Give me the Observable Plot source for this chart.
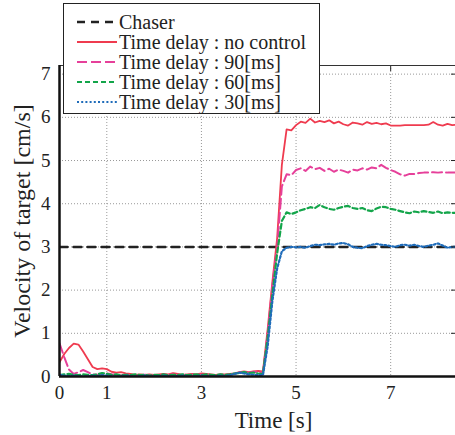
<!DOCTYPE html>
<html><head><meta charset="utf-8">
<script src="https://cdn.jsdelivr.net/npm/d3@7"></script>
<script src="https://cdn.jsdelivr.net/npm/@observablehq/plot@0.6"></script>
<style>body{margin:0;background:#fff} #wrap{position:relative;width:455px;height:435px;overflow:hidden}</style>
</head><body><div id="wrap"></div>
<script>
const time = [0.0,0.1,0.2,0.3,0.4,0.5,0.6,0.7,0.8,0.9,1.0,1.1,1.2,1.3,1.4,1.5,1.6,1.7,1.8,1.9,2.0,2.1,2.2,2.3,2.4,2.5,2.6,2.7,2.8,2.9,3.0,3.1,3.2,3.3,3.4,3.5,3.6,3.7,3.8,3.9,4.0,4.1,4.2,4.3,4.4,4.5,4.6,4.7,4.8,4.9,5.0,5.1,5.2,5.3,5.4,5.5,5.6,5.7,5.8,5.9,6.0,6.1,6.2,6.3,6.4,6.5,6.6,6.7,6.8,6.9,7.0,7.1,7.2,7.3,7.4,7.5,7.6,7.7,7.8,7.9,8.0,8.1,8.2,8.3,8.4];
const noControl = [0.33,0.52,0.66,0.76,0.74,0.58,0.40,0.22,0.17,0.19,0.17,0.11,0.09,0.10,0.07,0.06,0.04,0.05,0.04,0.05,0.04,0.05,0.06,0.05,0.08,0.06,0.04,0.05,0.06,0.05,0.07,0.06,0.05,0.04,0.05,0.05,0.06,0.07,0.10,0.12,0.10,0.12,0.13,0.12,1.1,2.2,3.2,4.9,5.72,5.70,5.82,5.90,5.87,5.97,5.88,5.92,5.89,5.93,5.86,5.90,5.84,5.81,5.88,5.86,5.83,5.89,5.85,5.87,5.84,5.86,5.81,5.81,5.81,5.82,5.82,5.82,5.82,5.82,5.83,5.89,5.83,5.81,5.85,5.82,5.83];
const delay90 = [0.77,0.45,0.16,0.06,0.10,0.15,0.10,0.05,0.04,0.05,0.07,0.05,0.04,0.03,0.04,0.03,0.02,0.03,0.04,0.03,0.02,0.03,0.04,0.03,0.05,0.04,0.03,0.03,0.04,0.03,0.05,0.04,0.03,0.03,0.04,0.03,0.05,0.06,0.09,0.11,0.09,0.11,0.10,0.08,1.0,2.1,3.0,4.4,4.68,4.66,4.78,4.82,4.76,4.86,4.80,4.83,4.76,4.81,4.74,4.79,4.76,4.72,4.79,4.77,4.82,4.79,4.84,4.82,4.90,4.83,4.78,4.74,4.68,4.65,4.69,4.69,4.71,4.72,4.72,4.73,4.72,4.73,4.72,4.72,4.72];
const delay60 = [0.03,0.05,0.06,0.04,0.03,0.05,0.04,0.03,0.05,0.08,0.06,0.04,0.05,0.03,0.04,0.03,0.05,0.03,0.04,0.02,0.04,0.03,0.05,0.03,0.04,0.03,0.05,0.03,0.04,0.05,0.03,0.05,0.04,0.03,0.05,0.04,0.05,0.07,0.08,0.10,0.08,0.09,0.07,0.06,0.9,1.9,2.85,3.6,3.80,3.76,3.80,3.85,3.88,3.92,3.90,3.97,3.92,3.88,3.86,3.90,3.93,3.95,3.90,3.88,3.90,3.85,3.83,3.89,3.93,3.92,3.88,3.86,3.83,3.80,3.78,3.82,3.80,3.83,3.81,3.79,3.82,3.78,3.80,3.79,3.79];
const delay30 = [0.04,0.02,0.01,0.02,0.01,0.00,0.01,0.02,0.01,0.03,0.02,0.01,0.00,0.01,0.02,0.01,0.00,0.01,0.02,0.01,0.00,0.01,0.02,0.01,0.00,0.01,0.02,0.01,0.00,0.01,0.02,0.01,0.00,0.01,0.02,0.01,0.03,0.06,0.09,0.07,0.05,0.04,0.03,0.03,0.7,1.75,2.5,2.9,2.98,3.00,2.99,3.00,2.98,3.02,3.05,3.04,3.06,3.07,3.05,3.08,3.09,3.06,3.00,2.98,2.97,3.02,3.05,3.07,3.05,3.04,3.02,3.00,3.04,3.05,3.03,3.05,3.02,3.00,3.03,3.05,3.08,3.03,2.98,3.00,3.00];
const chaserTime = [0, 8.4];
const chaserValue = [3, 3];
const xTicks = [0, 1, 3, 5, 7];
const yTicks = [0, 1, 2, 3, 4, 5, 6, 7];
const legendLabels = ["Chaser", "Time delay : no control", "Time delay : 90[ms]", "Time delay : 60[ms]", "Time delay : 30[ms]"];

const FONT = '"Liberation Serif", Tinos, "Times New Roman", Times, "Nimbus Roman", "Nimbus Roman No9 L", FreeSerif, "Noto Serif", "DejaVu Serif", "Noto Serif CJK JP", serif';
const styles = [
  {color: "#222222", width: 2.5, dash: "8,6"},
  {color: "#ef3b4f", width: 1.8, dash: null},
  {color: "#e6409a", width: 2, dash: "10,4"},
  {color: "#13a54a", width: 2.2, dash: "5,3"},
  {color: "#1f6cba", width: 2.2, dash: "2,2.2"}
];
const seriesValues = [noControl, delay90, delay60, delay30];

const chaserRows = chaserTime.map((t, i) => ({t, v: chaserValue[i]}));
const seriesRows = seriesValues.map(vals => time.map((t, i) => ({t, v: vals[i]})));

const lineMark = (rows, st) => Plot.line(rows, {x: "t", y: "v", stroke: st.color, strokeWidth: st.width, strokeDasharray: st.dash, clip: true});

const plot = Plot.plot({
  width: 455, height: 435,
  marginLeft: 59, marginRight: 0, marginTop: 65, marginBottom: 59,
  style: {fontFamily: FONT, fontSize: "19px", color: "#222", background: "#fff"},
  x: {domain: [0, 8.37]},
  y: {domain: [0, 7.2]},
  marks: [
    Plot.gridX(xTicks.filter(d => d > 0), {stroke: "#999", strokeOpacity: 1, strokeDasharray: "1,2"}),
    Plot.gridY(yTicks.filter(d => d > 0), {stroke: "#999", strokeOpacity: 1, strokeDasharray: "1,2"}),
    Plot.frame({stroke: "#333", strokeWidth: 1}),
    lineMark(chaserRows, styles[0]),
    ...seriesRows.map((rows, i) => lineMark(rows, styles[i + 1])),
    Plot.axisX(xTicks, {tickSize: 0, tickPadding: 9, label: null, fontSize: 19}),
    Plot.axisY(yTicks, {tickSize: 0, tickPadding: 9, label: null, fontSize: 19}),
    Plot.axisY(yTicks, {anchor: "right", tickSize: -5, tickFormat: () => "", label: null, stroke: "#222"}),
    Plot.axisX(xTicks, {anchor: "top", tickSize: -5, tickFormat: () => "", label: null, stroke: "#222"}),
    Plot.ruleX([0], {stroke: "#111", strokeWidth: 2.5}),
    Plot.ruleY([0], {stroke: "#111", strokeWidth: 2.5}),
    Plot.text(["Velocity of target [cm/s]"], {text: d => d, frameAnchor: "left", rotate: -90, dx: -37, fontSize: 24, textAnchor: "middle", lineAnchor: "middle", fill: "#222"}),
    Plot.text(["Time [s]"], {text: d => d, frameAnchor: "bottom", dx: 16, dy: 44, fontSize: 23, textAnchor: "middle", lineAnchor: "middle", fill: "#222"})
  ]
});

const wrap = document.getElementById("wrap");
wrap.appendChild(plot);

const leg = d3.create("svg")
  .attr("width", 258).attr("height", 112)
  .style("position", "absolute").style("left", "63px").style("top", "3px")
  .style("font-family", FONT);
leg.append("rect").attr("x", 0.5).attr("y", 0.5).attr("width", 256).attr("height", 110)
  .attr("fill", "#fff").attr("stroke", "#222").attr("stroke-width", 1);
legendLabels.forEach((label, i) => {
  const y = 19 + i * 20;
  const st = styles[i];
  leg.append("line").attr("x1", 14).attr("x2", 54).attr("y1", y).attr("y2", y)
    .attr("stroke", st.color).attr("stroke-width", st.width)
    .attr("stroke-dasharray", st.dash);
  leg.append("text").attr("x", 56).attr("y", y).attr("dy", "0.35em")
    .attr("font-size", 20).attr("fill", "#222").text(label);
});
wrap.appendChild(leg.node());
</script>
</body></html>
